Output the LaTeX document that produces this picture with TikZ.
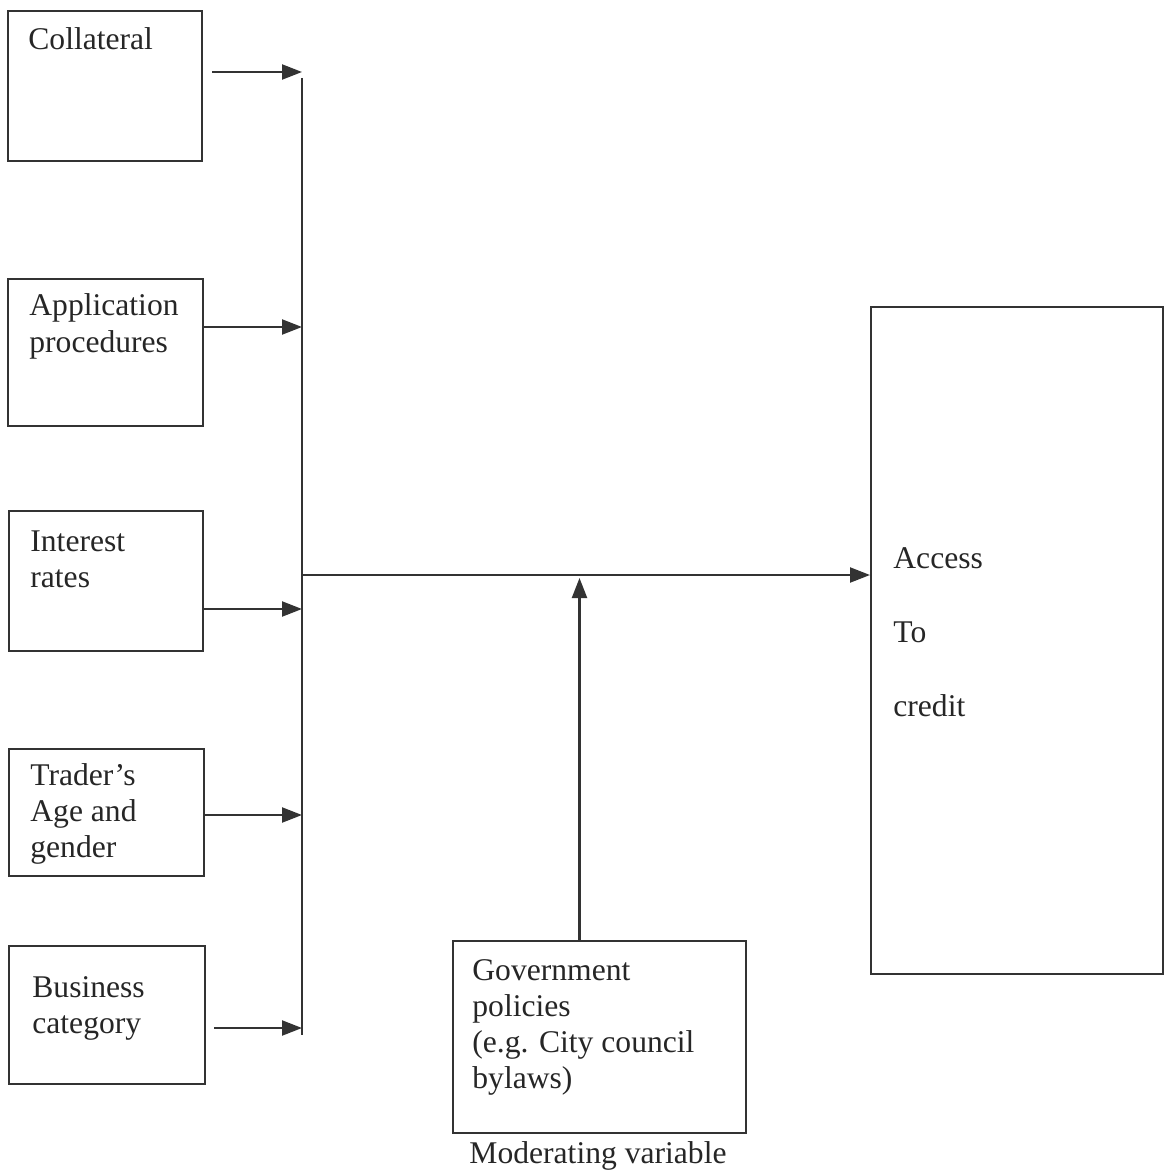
\documentclass[tikz,border=0pt]{standalone}
\usepackage{fontspec}
\setmainfont{Liberation Serif}
\usetikzlibrary{arrows.meta}

\begin{document}
\begin{tikzpicture}[x=0.5pt, y=-0.5pt,
    box/.style={draw=black!80, line width=1pt, rectangle, inner sep=0pt, anchor=north west},
    txt/.style={inner sep=0pt, anchor=base west, align=left, text=black!85,
        font=\fontsize{15.8}{18}\selectfont},
    arr/.style={draw=black!80, line width=1.1pt, -{Triangle[length=10pt, width=7.5pt]}}]
    \useasboundingbox (0, 0) rectangle (1164, 1171);
    % independent variables
    \node[box, minimum width=97pt, minimum height=75pt] (coll) at (7, 10) {};
    \node[box, minimum width=97.5pt, minimum height=73.5pt] (appl) at (7, 278) {};
    \node[box, minimum width=97pt, minimum height=70pt] (intr) at (8, 510) {};
    \node[box, minimum width=97.5pt, minimum height=63.5pt] (trad) at (8, 748) {};
    \node[box, minimum width=98pt, minimum height=69pt] (busi) at (8, 945) {};
	% (base anchor sits on the last line)
	\node[txt] (colltxt) at (28, 50) {Collateral};
	\node[txt] (appltxt) at (29, 352) {Application\\procedures};
	\node[txt] (intrtxt) at (30, 587) {Interest\\rates};
	\node[txt] (tradtxt) at (30, 857) {Trader’s\\Age and\\gender};
	\node[txt] (busitxt) at (32, 1033) {Business\\category};
    % moderating and dependent variables
    \node[box, minimum width=146.5pt, minimum height=96pt] (gov) at (452, 940) {};
    \node[box, minimum width=146pt, minimum height=333.5pt] (acc) at (870, 306) {};
	\node[txt] (govtxt) at (472, 1088) {Government\\policies\\(e.g. City council\\bylaws)};
	\node[txt, font=\fontsize{15.8}{37}\selectfont] (acctxt) at (893, 716) {Access\\To\\credit};
	\node[txt, anchor=base] (modtxt) at (598, 1163) {Moderating variable};
    % trunk
    \coordinate (ttop) at (302, 78);
    \coordinate (tbot) at (302, 1035);
    \coordinate (t1) at (302, 72);
    \coordinate (t2) at (302, 327);
    \coordinate (t3) at (302, 609);
    \coordinate (t4) at (302, 815);
    \coordinate (t5) at (302, 1028);
    \coordinate (mid) at (302, 575);
    \draw[draw=black!80, line width=1.1pt] (ttop) -- (tbot);
    \draw[arr] ([xshift=4.5pt]coll.east |- t1) -- (t1);
    \draw[arr] (appl.east |- t2) -- (t2);
    \draw[arr] (intr.east |- t3) -- (t3);
    \draw[arr] (trad.east |- t4) -- (t4);
    \draw[arr] ([xshift=4pt]busi.east |- t5) -- (t5);
    \draw[arr] (mid) -- (mid -| acc.west);
    \draw[arr] ([xshift=-10pt]gov.north) -- ([xshift=-10pt, yshift=-1.5pt]gov.north |- mid);
\end{tikzpicture}
\end{document}
